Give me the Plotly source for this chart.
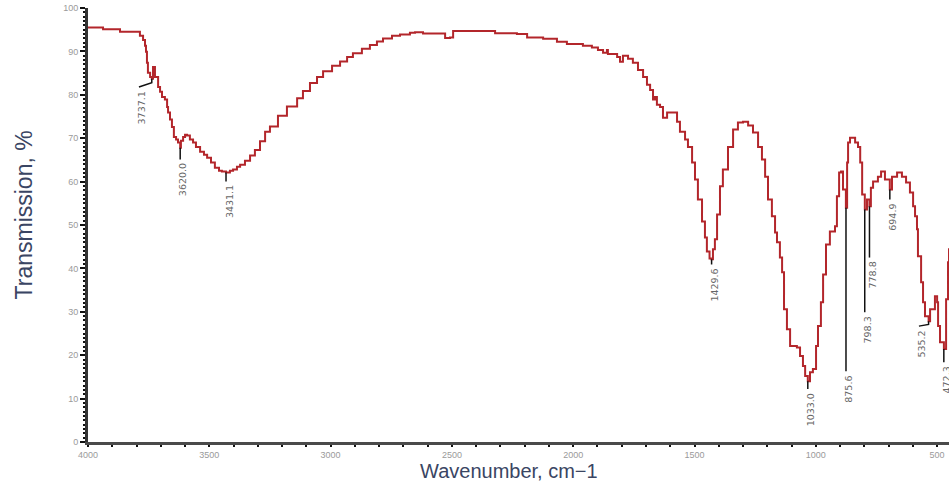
import plotly.graph_objects as go

# IR transmission spectrum (wavenumber in cm-1, transmission in %)
wavenumber = [
    4000, 3938, 3868, 3798, 3786, 3773, 3765, 3761, 3757, 3753, 3744, 3737, 3732, 3724,
    3711, 3703, 3695, 3683, 3674, 3670, 3662, 3654, 3646, 3637, 3629, 3620, 3617, 3608,
    3600, 3592, 3580, 3567, 3555, 3538, 3522, 3509, 3493, 3477, 3460, 3448, 3431, 3415,
    3402, 3386, 3373, 3353, 3332, 3312, 3291, 3270, 3250, 3217, 3180, 3138, 3114, 3085,
    3056, 3031, 2994, 2961, 2932, 2908, 2871, 2838, 2809, 2784, 2747, 2714, 2673, 2652,
    2619, 2537, 2528, 2508, 2495, 2331, 2322, 2232, 2190, 2124, 2067, 2026, 1960, 1923,
    1898, 1877, 1861, 1857, 1836, 1819, 1807, 1795, 1774, 1754, 1733, 1712, 1696, 1683,
    1671, 1663, 1655, 1642, 1630, 1613, 1589, 1572, 1560, 1539, 1527, 1510, 1498, 1486,
    1469, 1457, 1449, 1438, 1430, 1424, 1416, 1407, 1395, 1383, 1362, 1341, 1321, 1300,
    1279, 1259, 1238, 1222, 1209, 1197, 1181, 1168, 1160, 1148, 1139, 1131, 1119, 1106,
    1078, 1065, 1053, 1044, 1033, 1024, 1012, 999, 991, 979, 970, 958, 942, 921,
    913, 904, 896, 888, 876, 871, 867, 859, 847, 838, 826, 817, 809, 798,
    789, 779, 773, 764, 744, 731, 715, 695, 686, 665, 645, 628, 612, 599,
    591, 583, 579, 566, 558, 550, 535, 529, 509, 500, 496, 488, 472, 463,
    455, 451, 440,
]
transmission = [
    95.5, 95.1, 94.5, 94.5, 93.6, 92.6, 91.3, 89.9, 87.4, 85.1, 84.1, 83.7, 86.4, 84.1,
    81.8, 80.7, 79.5, 78.9, 77.2, 75.9, 74.3, 72.6, 70.3, 69.7, 69.0, 67.8, 69.4, 70.3,
    70.8, 70.6, 69.7, 69.0, 68.0, 66.9, 66.2, 65.5, 64.4, 63.2, 62.5, 62.3, 62.1, 62.5,
    62.8, 63.4, 63.9, 64.8, 66.0, 67.3, 69.3, 71.5, 72.7, 75.2, 77.3, 79.2, 80.9, 82.7,
    84.1, 85.4, 86.7, 87.7, 88.7, 89.6, 90.6, 91.5, 92.3, 93.0, 93.6, 93.9, 94.3, 94.4,
    94.1, 94.1, 93.1, 93.2, 94.7, 94.7, 94.2, 94.0, 93.2, 92.9, 92.2, 91.7, 91.3, 90.9,
    90.3, 89.7, 90.3, 89.4, 89.4, 88.7, 87.6, 89.0, 88.3, 87.4, 85.7, 84.1, 82.3, 81.1,
    78.9, 79.5, 77.7, 77.2, 74.7, 75.9, 75.9, 73.8, 71.5, 69.7, 68.0, 64.4, 60.5, 55.9,
    50.8, 47.1, 43.9, 42.3, 42.1, 44.4, 46.7, 52.4, 58.9, 62.8, 68.0, 72.0, 73.6, 73.8,
    72.9, 71.3, 68.0, 65.1, 61.1, 55.9, 52.0, 48.3, 46.0, 42.5, 39.1, 30.6, 26.0, 22.1,
    21.8, 19.8, 17.5, 15.2, 14.0, 16.1, 16.8, 22.1, 26.7, 32.2, 38.6, 45.5, 48.5, 49.7,
    56.6, 62.1, 62.3, 58.2, 54.0, 64.4, 69.0, 70.1, 70.1, 69.0, 68.0, 64.4, 57.0, 53.6,
    55.9, 54.3, 58.6, 60.0, 61.1, 62.3, 60.5, 58.2, 61.1, 62.1, 61.1, 59.8, 57.5, 54.3,
    52.0, 49.0, 42.8, 36.8, 32.2, 29.0, 27.8, 30.6, 33.6, 32.2, 26.7, 23.0, 21.4, 32.9,
    41.4, 44.4, 52.0,
]

# Picked peaks: position, value on the curve, knee of the leader line, leader end
peak_wn = [3737.1, 3620.0, 3431.1, 1429.6, 1033.0, 875.6, 798.3, 778.8, 694.9, 535.2, 472.3]
peak_top = [83.7, 67.8, 62.1, 42.1, 14.0, 54.0, 53.6, 54.3, 58.2, 27.8, 21.4]
peak_knee = [82.8, 65.1, 60.0, 40.9, 12.2, 16.3, 29.9, 42.5, 55.9, 27.1, 18.4]
peak_end = [81.8, 65.1, 60.0, 40.9, 12.2, 16.3, 29.9, 42.5, 55.9, 26.7, 18.4]
label_wn = [3790, 3620.0, 3431.1, 1429.6, 1033.0, 875.6, 798.3, 778.8, 694.9, 575, 472.3]
peak_text = ["3737.1", "3620.0", "3431.1", "1429.6", "1033.0", "875.6", "798.3",
             "778.8", "694.9", "535.2", "472.3"]

fig = go.Figure()

fig.add_trace(go.Scatter(
    x=wavenumber, y=transmission, mode="lines",
    line=dict(color="#b3262b", width=2, shape="hv"),
    hoverinfo="skip", showlegend=False,
))

# leader lines for the peak labels
lx, ly = [], []
for w, t, k, e, lw in zip(peak_wn, peak_top, peak_knee, peak_end, label_wn):
    lx += [w, w, lw, None]
    ly += [t, k, e, None]
fig.add_trace(go.Scatter(
    x=lx, y=ly, mode="lines", line=dict(color="#111111", width=1.5),
    hoverinfo="skip", showlegend=False,
))

for lw, e, txt in zip(label_wn, peak_end, peak_text):
    fig.add_annotation(
        x=lw, y=e, xref="x", yref="y", text=txt, showarrow=False,
        textangle=-90, xanchor="center", yanchor="top", xshift=3, yshift=-2,
        font=dict(family="DejaVu Sans", size=9.5, color="#666666"),
    )

title_font = dict(family="Liberation Sans, Arial", size=23, color="#3a4563")
fig.add_annotation(
    text="Transmission, %", xref="paper", yref="paper", x=0, y=0.522,
    xshift=-64, xanchor="center", yanchor="middle", textangle=-90,
    showarrow=False, font=title_font,
)
fig.add_annotation(
    text="Wavenumber, cm\u22121", xref="paper", yref="paper", x=0.489, y=0,
    yshift=-29, xanchor="center", yanchor="middle",
    showarrow=False, font=dict(title_font, size=20),
)

tick_font = dict(family="Liberation Sans, Arial", size=9, color="#9a9a9a")

fig.update_xaxes(
    range=[4000, 451], tickmode="linear", tick0=4000, dtick=500,
    showgrid=False, zeroline=False, showline=True, linecolor="#4a4a4a", linewidth=3,
    ticks="outside", ticklen=2, tickwidth=2, tickcolor="#111111",
    minor=dict(ticks="outside", dtick=100, ticklen=2, tickwidth=2, tickcolor="#111111"),
    tickfont=tick_font,
)
fig.update_yaxes(
    range=[0, 100], tickmode="linear", tick0=0, dtick=10,
    showgrid=False, zeroline=False, showline=True, linecolor="#333333", linewidth=3,
    ticks="outside", ticklen=5, tickwidth=2, tickcolor="#111111",
    minor=dict(ticks="outside", dtick=1, ticklen=2, tickwidth=1.5, tickcolor="#111111"),
    tickfont=tick_font,
)

fig.update_layout(
    width=949, height=486,
    margin=dict(l=88, r=0, t=8, b=44),
    paper_bgcolor="white", plot_bgcolor="white",
    showlegend=False,
)

fig.write_html("out.html", config={"displayModeBar": False})
